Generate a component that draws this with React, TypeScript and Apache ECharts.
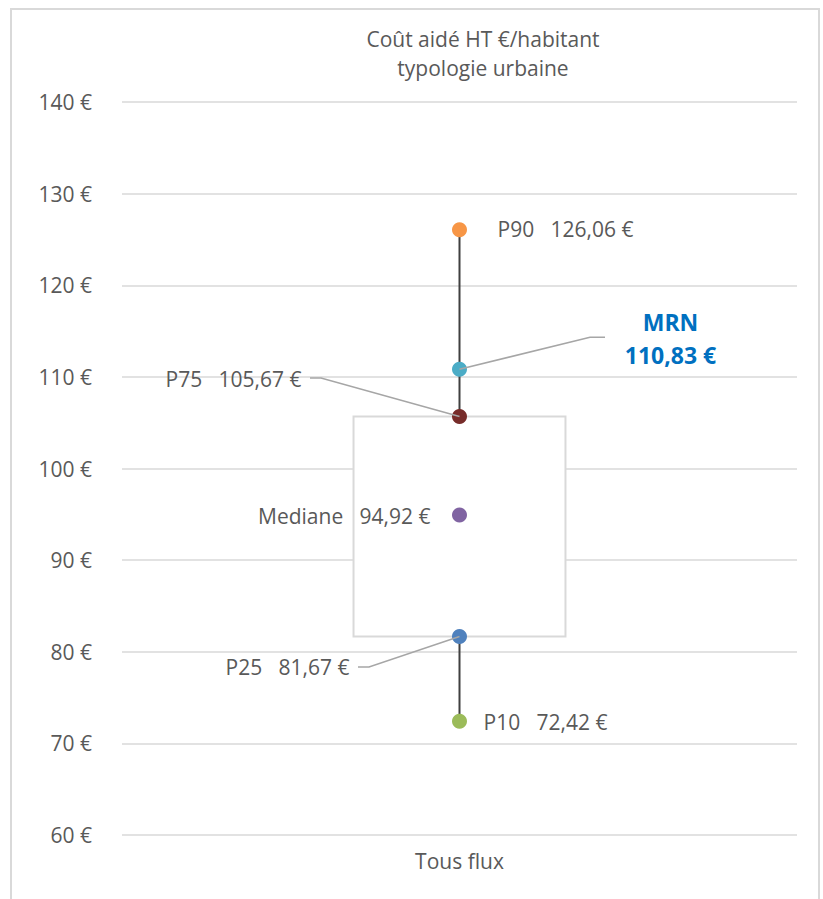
import React, { useEffect, useRef } from "react";
import * as echarts from "echarts";

const categories = ["Tous flux"];
const pointNames = ["P10", "P25", "Mediane", "P75", "MRN", "P90"];
const pointValues = [72.42, 81.67, 94.92, 105.67, 110.83, 126.06];
const pointColors = ["#9BBB59", "#4F81BD", "#8064A2", "#772C2A", "#4BACC6", "#F79646"];
const yMin = 60;
const yMax = 140;
const yStep = 10;
const titleLines = ["Coût aidé HT €/habitant", "typologie urbaine"];

const FONT = "'Open Sans', sans-serif";
const TXT = "#595959";

const fmt = (v: number) => v.toFixed(2).replace(".", ",") + " €";

// label placement (pixel offsets from the point centre) – styling only
const labelPlacement: Record<string, { dx: number; dy: number; align: string }> = {
  P10: { dx: 24, dy: 1, align: "left" },
  P25: { dx: -110, dy: 30.5, align: "right" },
  Mediane: { dx: -29, dy: 1, align: "right" },
  P75: { dx: -158, dy: -37.5, align: "right" },
  MRN: { dx: 211, dy: -31, align: "center" },
  P90: { dx: 38, dy: -0.5, align: "left" },
};
const leaderOffsets: Record<string, number[][]> = {
  P25: [[-90.5, 30.5], [-101.5, 30.5]],
  P75: [[-138.5, -38.5], [-149.5, -38.5]],
  MRN: [[130.5, -32], [145.5, -32]],
};

export default function App() {
  const ref = useRef<HTMLDivElement>(null);
  useEffect(() => {
    if (!ref.current) return;
    const chart = echarts.init(ref.current, undefined, { renderer: "svg" });
    const idx = (n: string) => pointNames.indexOf(n);
    const v = (n: string) => pointValues[idx(n)];

    const scatterData = pointNames.map((name, i) => {
      const p = labelPlacement[name];
      const isMRN = name === "MRN";
      const text = isMRN ? `MRN\n${fmt(pointValues[i])}` : `${name}   ${fmt(pointValues[i])}`;
      return {
        name,
        value: [0, pointValues[i]],
        itemStyle: { color: pointColors[i], opacity: 1 },
        label: {
          show: true,
          formatter: text,
          position: [7.5 + p.dx, 7.5 + p.dy],
          align: p.align,
          verticalAlign: "middle",
          fontFamily: FONT,
          fontSize: isMRN ? 23 : 21,
          fontWeight: isMRN ? "bold" : "normal",
          color: isMRN ? "#0070C0" : TXT,
          opacity: 1,
          lineHeight: isMRN ? 33 : 26,
        },
      };
    });

    const leaderData = Object.keys(leaderOffsets).map((n) => ({ name: n, value: [0, v(n)] }));

    chart.setOption({
      animation: false,
      title: {
        text: titleLines.join("\n"),
        left: 478,
        top: 19,
        textAlign: "center",
        textStyle: {
          fontFamily: FONT,
          fontSize: 21,
          fontWeight: "normal",
          color: TXT,
          lineHeight: 29,
        },
      },
      graphic: [
        {
          type: "rect",
          shape: { x: 11, y: 9, width: 808, height: 910 },
          style: { fill: "none", stroke: "#d9d9d9", lineWidth: 2 },
          silent: true,
        },
      ],
      grid: { left: 122, right: 26, top: 102, bottom: 64, containLabel: false },
      xAxis: {
        type: "category",
        data: categories,
        axisLine: { show: false },
        axisTick: { show: false },
        axisLabel: { fontFamily: FONT, fontSize: 21, color: TXT, margin: 15 },
        splitLine: { show: false },
      },
      yAxis: {
        type: "value",
        min: yMin,
        max: yMax,
        interval: yStep,
        axisLine: { show: false },
        axisTick: { show: false },
        axisLabel: {
          formatter: (val: number) => `${val} €`,
          fontFamily: FONT,
          fontSize: 21,
          color: TXT,
          margin: 30,
        },
        splitLine: { lineStyle: { color: "#d9d9d9", width: 1.5 } },
      },
      series: [
        {
          type: "custom",
          z: 2,
          silent: true,
          data: [[0, v("P10"), v("P25"), v("P75"), v("P90")]],
          renderItem: (params: any, api: any) => {
            const x = api.value(0);
            const pLow = api.coord([x, api.value(1)]);
            const pQ1 = api.coord([x, api.value(2)]);
            const pQ3 = api.coord([x, api.value(3)]);
            const pHigh = api.coord([x, api.value(4)]);
            const w = api.size([1, 0])[0] * 0.314;
            return {
              type: "group",
              children: [
                {
                  type: "line",
                  shape: { x1: pLow[0], y1: pLow[1], x2: pHigh[0], y2: pHigh[1] },
                  style: { stroke: "#404040", lineWidth: 2 },
                },
                {
                  type: "rect",
                  shape: { x: pQ3[0] - w / 2, y: pQ3[1], width: w, height: pQ1[1] - pQ3[1] },
                  style: { fill: "#ffffff", stroke: "#d9d9d9", lineWidth: 2 },
                },
              ],
            };
          },
        },
        {
          type: "scatter",
          z: 3,
          symbol: "circle",
          symbolSize: 15,
          itemStyle: { opacity: 1 },
          data: scatterData,
        },
        {
          type: "custom",
          z: 4,
          silent: true,
          data: leaderData,
          renderItem: (params: any, api: any) => {
            const name = leaderData[params.dataIndex].name;
            const c = api.coord([api.value(0), api.value(1)]);
            const offs = leaderOffsets[name];
            return {
              type: "polyline",
              shape: {
                points: [c, ...offs.map((o) => [c[0] + o[0], c[1] + o[1]])],
              },
              style: { stroke: "#a6a6a6", lineWidth: 1.5, fill: "none" },
            };
          },
        },
      ],
    });
    return () => chart.dispose();
  }, []);
  return (
    <div
      ref={ref}
      style={{ position: "fixed", left: 0, top: 0, width: 823, height: 899, background: "#fff" }}
    />
  );
}
